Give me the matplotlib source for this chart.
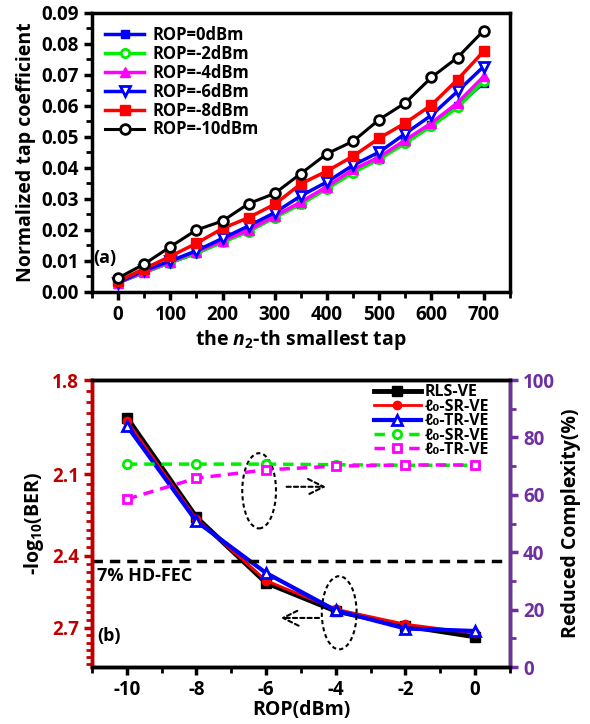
import matplotlib
matplotlib.use('Agg')
import matplotlib.pyplot as plt
from matplotlib.patches import Ellipse
from matplotlib.ticker import FixedLocator, NullFormatter, MultipleLocator

plt.rcParams['font.family'] = ['Open Sans', 'DejaVu Sans']
plt.rcParams['font.weight'] = 'bold'
plt.rcParams['axes.unicode_minus'] = False
plt.rcParams['mathtext.fontset'] = 'custom'
plt.rcParams['mathtext.rm'] = 'Open Sans:bold'
plt.rcParams['mathtext.it'] = 'Open Sans:bold:italic'
plt.rcParams['mathtext.bf'] = 'Open Sans:bold'

# (a) normalized tap coefficient vs tap index
taps = [0, 50, 100, 150, 200, 250, 300, 350, 400, 450, 500, 550, 600, 650, 700]
rop_0 = [0.003, 0.0063, 0.0095, 0.0125, 0.0163, 0.0197, 0.0243, 0.0285, 0.0335, 0.0387, 0.043, 0.0483, 0.0538, 0.060, 0.0675]
rop_2 = [0.003, 0.0063, 0.0095, 0.0125, 0.016, 0.0195, 0.024, 0.0283, 0.0333, 0.0385, 0.0428, 0.048, 0.0535, 0.0595, 0.068]
rop_4 = [0.003, 0.0065, 0.0098, 0.013, 0.0165, 0.020, 0.0245, 0.029, 0.034, 0.0395, 0.0435, 0.049, 0.0545, 0.061, 0.0695]
rop_6 = [0.003, 0.007, 0.010, 0.0133, 0.0173, 0.0213, 0.0256, 0.031, 0.0355, 0.0409, 0.0451, 0.0511, 0.057, 0.0647, 0.0727]
rop_8 = [0.0035, 0.0075, 0.0115, 0.0157, 0.0205, 0.024, 0.0283, 0.0349, 0.039, 0.0438, 0.0496, 0.0545, 0.0603, 0.0685, 0.0776]
rop_10 = [0.0045, 0.009, 0.0146, 0.020, 0.0229, 0.0285, 0.0318, 0.0382, 0.0446, 0.0486, 0.0556, 0.061, 0.0692, 0.0756, 0.0843]

# (b) BER and complexity vs ROP
rop = [-10, -8, -6, -4, -2, 0]
ber_rls = [1.914, 2.254, 2.509, 2.628, 2.693, 2.741]
ber_sr = [1.925, 2.260, 2.500, 2.620, 2.685, 2.725]
ber_tr = [1.940, 2.269, 2.469, 2.625, 2.704, 2.715]
cplx_sr = [70.7, 70.7, 70.7, 70.5, 70.3, 70.3]
cplx_tr = [58.5, 65.8, 68.7, 70.0, 70.4, 70.4]
hd_fec = 2.42

RED = '#c00000'
PURPLE = '#7030a0'
TICK_FS = 13.5

fig = plt.figure(figsize=(5.9, 7.24), dpi=100)

# ---------------- (a) ----------------
ax1 = fig.add_axes([0.156, 0.5967, 0.708, 0.3855])
ms = 6
ax1.plot(taps, rop_0, '-s', color='blue', lw=2.5, ms=ms, label='ROP=0dBm')
ax1.plot(taps, rop_2, '-o', color='#00ee00', mfc='white', mew=2, lw=2.5, ms=ms, label='ROP=-2dBm')
ax1.plot(taps, rop_4, '-^', color='magenta', lw=2.5, ms=ms + 1, label='ROP=-4dBm')
ax1.plot(taps, rop_6, '-v', color='blue', mfc='white', mew=2, lw=2.5, ms=ms + 1, label='ROP=-6dBm')
ax1.plot(taps, rop_8, '-s', color='red', lw=2.5, ms=ms + 1, label='ROP=-8dBm')
ax1.plot(taps, rop_10, '-o', color='black', mfc='white', mew=2, lw=2.2, ms=ms + 1, label='ROP=-10dBm')
ax1.set_xlim(-50, 750)
ax1.set_ylim(0, 0.09)
ax1.xaxis.set_major_locator(MultipleLocator(100))
ax1.xaxis.set_minor_locator(MultipleLocator(50))
ax1.yaxis.set_major_locator(MultipleLocator(0.01))
ax1.yaxis.set_minor_locator(MultipleLocator(0.005))
ax1.yaxis.set_major_formatter(plt.FormatStrFormatter('%.2f'))
ax1.tick_params(which='major', direction='out', length=6, width=2.5, labelsize=TICK_FS)
ax1.tick_params(which='minor', direction='out', length=4, width=2)
for s in ax1.spines.values():
    s.set_linewidth(2.5)
ax1.set_xlabel('the $n_2$-th smallest tap', fontsize=14, fontweight='bold', labelpad=2)
ax1.set_ylabel('Normalized tap coefficient', fontsize=14, fontweight='bold')
ax1.text(-47, 0.0095, '(a)', fontsize=13, fontweight='bold')
ax1.legend(loc='upper left', frameon=False, fontsize=12, handlelength=2.3,
           labelspacing=0.05, handletextpad=0.5, borderaxespad=0.4)

# ---------------- (b) ----------------
ax = fig.add_axes([0.156, 0.0787, 0.708, 0.3964])
ax.set_yscale('log')
ax.plot(rop, ber_rls, '-s', color='black', lw=3.5, ms=7, label='RLS-VE')
ax.plot(rop, ber_sr, '-o', color='red', lw=2, ms=6, label='ℓ₀-SR-VE')
ax.plot(rop, ber_tr, '-^', color='blue', lw=3, ms=7, mec='blue', mfc='white', mew=2, label='ℓ₀-TR-VE')
ax.axhline(hd_fec, color='black', ls='--', lw=2.5, dashes=(3, 2))
ax.set_xlim(-11, 1)
ax.set_ylim(2.88, 1.8)
ax.yaxis.set_major_locator(FixedLocator([1.8, 2.1, 2.4, 2.7]))
ax.yaxis.set_major_formatter(plt.FixedFormatter(['1.8', '2.1', '2.4', '2.7']))
minor = [1.8 + i * 0.3 / 9 for i in range(33)]
ax.yaxis.set_minor_locator(FixedLocator(minor))
ax.yaxis.set_minor_formatter(NullFormatter())
ax.xaxis.set_major_locator(MultipleLocator(2))
ax.xaxis.set_minor_locator(MultipleLocator(1))
ax.tick_params(which='major', direction='out', length=6, width=2.5, labelsize=TICK_FS)
ax.tick_params(which='minor', direction='out', length=4, width=2)
ax.tick_params(axis='y', which='both', colors=RED)
ax.spines['left'].set_color(RED)
for s in ax.spines.values():
    s.set_linewidth(2.5)
ax.set_xlabel('ROP(dBm)', fontsize=14, fontweight='bold', labelpad=0)
ax.set_ylabel('-log$_{10}$(BER)', fontsize=14, fontweight='bold')
ax.text(-10.85, 2.76, '(b)', fontsize=13, fontweight='bold')
ax.text(-10.85, 2.5, '7% HD-FEC', fontsize=13, fontweight='bold')

ax2 = ax.twinx()
ax2.plot(rop, cplx_sr, '--o', color='#00ee00', mfc='white', mew=2, lw=2.5, ms=6,
         dashes=(3, 2), label='ℓ₀-SR-VE')
ax2.plot(rop, cplx_tr, '--s', color='magenta', mfc='white', mew=2, lw=2.5, ms=6,
         dashes=(3, 2), label='ℓ₀-TR-VE')
ax2.set_ylim(0, 100)
ax2.yaxis.set_major_locator(MultipleLocator(20))
ax2.yaxis.set_minor_locator(MultipleLocator(10))
ax2.tick_params(which='major', direction='out', length=6, width=2.5, labelsize=TICK_FS, colors=PURPLE)
ax2.tick_params(which='minor', direction='out', length=4, width=2, colors=PURPLE)
for name, s in ax2.spines.items():
    s.set_linewidth(2.5)
ax2.spines['right'].set_color(PURPLE)
ax2.spines['left'].set_color(RED)
ax2.set_ylabel('Reduced Complexity(%)', fontsize=14, fontweight='bold')

# ellipses and arrows
ax2.add_patch(Ellipse((-6.2, 61.4), 0.97, 26.2, fill=False, lw=1.5, color='black', ls=(0, (2, 1.5))))
ax2.add_patch(Ellipse((-3.9, 18.9), 1.0, 25.5, fill=False, lw=1.5, color='black', ls=(0, (2, 1.5))))
ax2.annotate('', xy=(-4.2, 62.8), xytext=(-5.49, 62.8),
             arrowprops=dict(arrowstyle='->', ls=(0, (2, 1.5)), lw=1.5, color='black', mutation_scale=28))
ax2.annotate('', xy=(-5.66, 17.1), xytext=(-4.4, 17.1),
             arrowprops=dict(arrowstyle='->', ls=(0, (2, 1.5)), lw=1.5, color='black', mutation_scale=28))

h1, l1 = ax.get_legend_handles_labels()
h2, l2 = ax2.get_legend_handles_labels()
ax2.legend(h1 + h2, l1 + l2, loc='upper right', bbox_to_anchor=(0.985, 1.035), frameon=False,
           fontsize=11.5, handlelength=3.0, labelspacing=-0.1, handletextpad=0.2)

fig.savefig('out.png', dpi=100)
